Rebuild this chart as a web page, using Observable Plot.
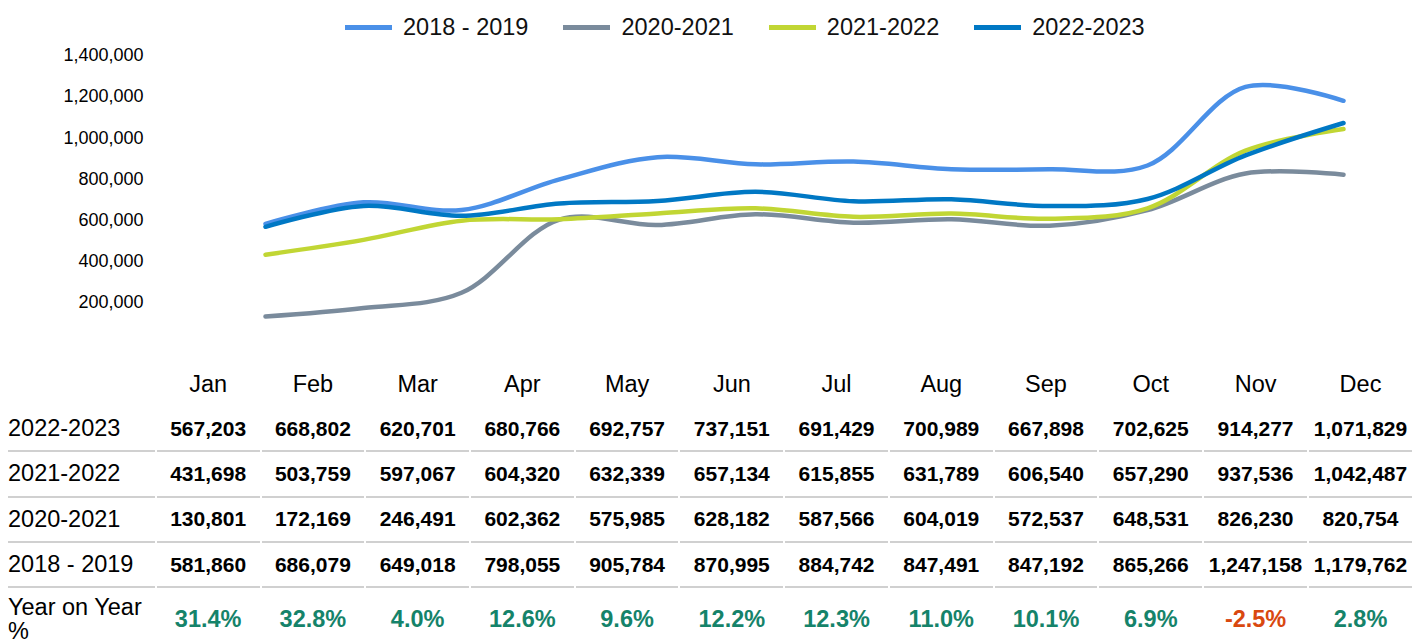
<!DOCTYPE html>
<html>
<head>
<meta charset="utf-8">
<script src="https://cdn.jsdelivr.net/npm/d3@7"></script>
<script src="https://cdn.jsdelivr.net/npm/@observablehq/plot@0.6"></script>
<style>
  html, body { margin: 0; padding: 0; background: #fff; width: 1414px; height: 644px; overflow: hidden; font-family: "Liberation Sans", Arial, sans-serif; color: #000; }
  #legend { position: absolute; left: 345px; top: 12px; height: 30px; display: flex; align-items: center; font-size: 23.5px; color: #111; }
  .item { display: flex; align-items: center; margin-right: 35px; }
  .sw { width: 47px; height: 5px; margin-right: 11px; }
  #chart { position: absolute; left: 0; top: 37px; height: 323px; }
  table { position: absolute; left: 6px; top: 361px; border-collapse: separate; border-spacing: 2px 0; table-layout: fixed; }
  td { padding: 0; text-align: center; white-space: nowrap; }
  td.lab { text-align: left; font-size: 23.5px; width: 147px; }
  td.val { font-weight: bold; font-size: 21px; width: 103px; }
  tr.hdr td { height: 46px; font-size: 23.5px; }
  tr.row td { height: 43.3px; border-bottom: 2px solid #d0d0d0; }
  tr.yoy td { height: 58px; padding-top: 2px; }
  td.pct { font-weight: bold; font-size: 23.5px; }
  tr.yoy td.lab { white-space: normal; line-height: 24px; vertical-align: middle; }
</style>
</head>
<body>
<div id="legend"></div>
<div id="chart"></div>
<table id="tbl"></table>
<script>
const months = ["Jan","Feb","Mar","Apr","May","Jun","Jul","Aug","Sep","Oct","Nov","Dec"];
const seriesNames = ["2018 - 2019","2020-2021","2021-2022","2022-2023"];
const seriesColors = ["#4a90e8","#7a8b9c","#c1d634","#0078c4"];
const v2018 = [581860,686079,649018,798055,905784,870995,884742,847491,847192,865266,1247158,1179762];
const v2020 = [130801,172169,246491,602362,575985,628182,587566,604019,572537,648531,826230,820754];
const v2021 = [431698,503759,597067,604320,632339,657134,615855,631789,606540,657290,937536,1042487];
const v2022 = [567203,668802,620701,680766,692757,737151,691429,700989,667898,702625,914277,1071829];
const yoy = [31.4,32.8,4.0,12.6,9.6,12.2,12.3,11.0,10.1,6.9,-2.5,2.8];
const yTicks = [200000,400000,600000,800000,1000000,1200000,1400000];
const tableOrder = [["2022-2023", v2022],["2021-2022", v2021],["2020-2021", v2020],["2018 - 2019", v2018]];
const yoyLabel = "Year on Year %";

const seriesValues = [v2018, v2020, v2021, v2022];
const data = [];
seriesNames.forEach((s, i) => months.forEach((m, j) => data.push({series: s, month: m, value: seriesValues[i][j]})));

// Legend
const lg = document.getElementById("legend");
seriesNames.forEach((s, i) => {
  const it = document.createElement("div"); it.className = "item";
  const sw = document.createElement("div"); sw.className = "sw"; sw.style.background = seriesColors[i];
  const tx = document.createElement("span"); tx.textContent = s;
  it.appendChild(sw); it.appendChild(tx); lg.appendChild(it);
});

const fmt = d3.format(",");
const chart = Plot.plot({
  width: 1414,
  height: 323,
  marginLeft: 261,
  marginRight: 67,
  marginTop: 18,
  marginBottom: 17,
  style: {fontFamily: "Liberation Sans, Arial, sans-serif", fontSize: "18px", color: "#000", background: "#fff"},
  x: {type: "point", domain: months, padding: 0, axis: null},
  y: {domain: [0, 1400000], axis: null},
  color: {domain: seriesNames, range: seriesColors},
  marks: [
    Plot.axisY({ticks: yTicks, tickSize: 0, tickPadding: 118, tickFormat: fmt, label: null, fontSize: 18}),
    Plot.lineY(data, {x: "month", y: "value", stroke: "series", z: "series", curve: "catmull-rom", strokeWidth: 4.5, strokeLinecap: "round", strokeLinejoin: "round"})
  ]
});
document.getElementById("chart").appendChild(chart);

// Table
const tbl = document.getElementById("tbl");
let html = '<tr class="hdr"><td class="lab"></td>' + months.map(m => `<td class="val" style="font-weight:normal;font-size:23.5px">${m}</td>`).join("") + '</tr>';
tableOrder.forEach(([name, vals]) => {
  html += `<tr class="row"><td class="lab">${name}</td>` + vals.map(v => `<td class="val">${fmt(v)}</td>`).join("") + '</tr>';
});
html += `<tr class="yoy"><td class="lab">${yoyLabel}</td>` + yoy.map(p => `<td class="pct" style="color:${p < 0 ? '#d9480f' : '#15836a'}">${p.toFixed(1)}%</td>`).join("") + '</tr>';
tbl.innerHTML = html;
</script>
</body>
</html>
